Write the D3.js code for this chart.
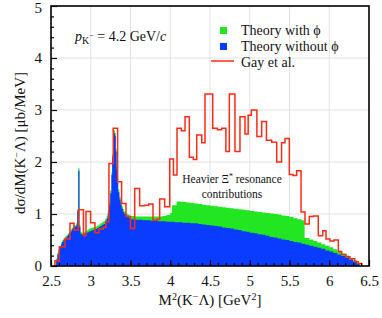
<!DOCTYPE html>
<html><head><meta charset="utf-8">
<script src="https://cdn.jsdelivr.net/npm/d3@7"></script>
<style>
body{margin:0;background:#fff;}
svg{display:block;}
svg text{font-family:"Liberation Serif","DejaVu Serif",serif;}
</style></head><body>
<svg id="c" width="382" height="318"></svg>
<script>
// ---- data ----
const redEdges = [2.55,2.605,2.676,2.739,2.79,2.845,2.908,2.94,2.998,3.052,3.103,3.157,3.19,3.229,3.283,3.338,3.388,3.443,3.50,3.553,3.615,3.678,3.73,3.783,3.83,3.867,3.93,3.993,4.04,4.085,4.14,4.186,4.24,4.29,4.333,4.396,4.437,4.49,4.534,4.592,4.647,4.70,4.743,4.814,4.877,4.94,4.98,5.02,5.09,5.15,5.21,5.276,5.339,5.40,5.443,5.498,5.545,5.59,5.645,5.695,5.749,5.80,5.862,5.918,5.959,6.009,6.06,6.114,6.157,6.21,6.26,6.32,6.365];
const redEnd = 6.408;
const redVals = [0.10,0.37,0.52,0.82,0.69,1.08,0.58,1.05,0.83,0.64,0.71,0.74,0.85,1.97,2.65,1.62,1.20,0.95,0.72,1.49,1.16,1.17,1.19,0.88,0.90,1.29,1.14,2.06,1.75,2.65,2.60,2.87,2.09,2.05,2.52,2.37,3.31,3.31,2.65,2.62,2.65,2.20,3.31,2.20,2.87,2.54,2.90,3.00,2.49,2.78,2.42,2.38,2.00,2.37,2.45,1.76,1.74,1.83,1.04,0.81,0.95,0.96,0.58,0.68,0.52,0.48,0.50,0.28,0.22,0.18,0.14,0.08,0.05];

const blueX = [2.565,2.58,2.595,2.61,2.625,2.64,2.655,2.67,2.685,2.70,2.715,2.73,2.745,2.76,2.775,2.79,2.805,2.82,2.83,2.843,2.858,2.87,2.885,2.90,2.92,2.94,2.96,2.98,3.00,3.02,3.04,3.06,3.08,3.10,3.12,3.14,3.16,3.18,3.20,3.215,3.23,3.245,3.26,3.27,3.28,3.29,3.305,3.315,3.325,3.335,3.345,3.36,3.375,3.39,3.405,3.42,3.44,3.46,3.48,3.5,3.55,3.6,3.65,3.7,3.75,3.8,3.85,3.9,3.95,4.0,4.05,4.1,4.15,4.2,4.25,4.3,4.35,4.4,4.45,4.5,4.55,4.6,4.65,4.7,4.75,4.8,4.85,4.9,4.95,5.0,5.05,5.1,5.15,5.2,5.25,5.3,5.35,5.4,5.45,5.5,5.55,5.6,5.65,5.7,5.75,5.8,5.85,5.9,5.95,6.0,6.05,6.1,6.15,6.2,6.25,6.3,6.35,6.38];
const blueY = [0.12,0.22,0.30,0.36,0.42,0.46,0.50,0.52,0.55,0.57,0.60,0.63,0.66,0.70,0.74,0.76,0.75,0.80,1.05,1.83,0.75,0.62,0.60,0.60,0.62,0.64,0.65,0.67,0.68,0.69,0.70,0.71,0.73,0.75,0.77,0.79,0.81,0.85,0.92,1.02,1.18,1.40,1.75,2.10,2.40,2.55,2.50,2.20,1.85,1.60,1.42,1.28,1.18,1.10,1.04,1.00,0.97,0.94,0.92,0.90,0.89,0.89,0.88,0.88,0.87,0.87,0.86,0.86,0.85,0.85,0.84,0.84,0.83,0.83,0.82,0.82,0.81,0.80,0.79,0.78,0.77,0.76,0.74,0.73,0.72,0.70,0.69,0.67,0.66,0.64,0.63,0.61,0.60,0.58,0.56,0.55,0.53,0.51,0.50,0.48,0.46,0.45,0.43,0.41,0.39,0.37,0.35,0.33,0.30,0.28,0.25,0.22,0.19,0.16,0.12,0.08,0.04,0];

const greenX = [2.565,2.58,2.595,2.61,2.625,2.64,2.655,2.67,2.685,2.70,2.715,2.73,2.745,2.76,2.775,2.79,2.805,2.82,2.83,2.843,2.858,2.87,2.885,2.90,2.92,2.94,2.96,2.98,3.00,3.02,3.04,3.06,3.08,3.10,3.12,3.14,3.16,3.18,3.20,3.215,3.23,3.245,3.26,3.27,3.28,3.29,3.305,3.315,3.325,3.335,3.345,3.36,3.375,3.39,3.405,3.42,3.44,3.46,3.48,3.5,3.55,3.6,3.65,3.7,3.75,3.8,3.85,3.9,3.95,4.0,4.02,4.05,4.08,4.1,4.15,4.2,4.25,4.3,4.35,4.4,4.45,4.5,4.55,4.6,4.65,4.7,4.75,4.8,4.85,4.9,4.95,5.0,5.05,5.1,5.15,5.2,5.25,5.3,5.35,5.4,5.45,5.5,5.55,5.6,5.65,5.69,5.75,5.8,5.85,5.9,5.95,6.0,6.05,6.1,6.15,6.2,6.25,6.3,6.35,6.39];
const greenY = [0.14,0.25,0.33,0.39,0.45,0.49,0.53,0.55,0.58,0.60,0.63,0.66,0.69,0.73,0.77,0.79,0.78,0.83,1.09,1.88,0.79,0.66,0.64,0.64,0.66,0.68,0.70,0.72,0.73,0.74,0.75,0.76,0.78,0.80,0.82,0.84,0.86,0.90,0.97,1.07,1.23,1.45,1.80,2.15,2.45,2.61,2.56,2.26,1.90,1.65,1.47,1.33,1.23,1.15,1.09,1.05,1.02,0.99,0.97,0.96,0.95,0.95,0.95,0.95,0.95,0.95,0.95,0.96,0.98,1.02,1.17,1.17,1.24,1.24,1.23,1.22,1.21,1.20,1.19,1.18,1.17,1.16,1.15,1.14,1.13,1.12,1.11,1.10,1.09,1.08,1.07,1.06,1.05,1.04,1.03,1.02,1.01,1.00,0.99,0.97,0.96,0.94,0.92,0.90,0.88,0.54,0.51,0.48,0.45,0.42,0.39,0.36,0.32,0.28,0.24,0.20,0.15,0.11,0.06,0];

const xTicks = [2.5,3,3.5,4,4.5,5,5.5,6,6.5];
const xTickLabels = ["2.5","3","3.5","4","4.5","5","5.5","6","6.5"];
const yTicks = [0,1,2,3,4,5];
const legendLabels = ["Theory with \u03D5","Theory without \u03D5","Gay et al."];

// ---- layout ----
const FONT = '"Liberation Serif","DejaVu Serif",serif';
const L = 51, R = 369, T = 6, B = 266;
const svg = d3.select("#c");
const x = d3.scaleLinear().domain([2.5,6.5]).range([L,R]);
const y = d3.scaleLinear().domain([0,5]).range([B,T]);
const GREEN = "#22e622", BLUE = "#0a3cff", RED = "#ff2a14";

// grid
const grid = svg.append("g");
grid.selectAll("line.gx").data(xTicks.slice(1,-1)).join("line")
  .attr("x1",d=>x(d)).attr("x2",d=>x(d)).attr("y1",T).attr("y2",B)
  .attr("stroke","#e2e2e2").attr("stroke-width",1);
grid.selectAll("line.gy").data(yTicks.slice(1,-1)).join("line")
  .attr("y1",d=>y(d)).attr("y2",d=>y(d)).attr("x1",L).attr("x2",R)
  .attr("stroke","#e2e2e2").attr("stroke-width",1);

svg.append("clipPath").attr("id","clip").append("rect")
  .attr("x",L).attr("y",T).attr("width",R-L).attr("height",B-T);
const plot = svg.append("g").attr("clip-path","url(#clip)");

const area = d3.area().x(d=>x(d[0])).y0(y(0)).y1(d=>y(d[1])).curve(d3.curveStepAfter);
plot.append("path").datum(greenX.map((v,i)=>[v,greenY[i]])).attr("d",area).attr("fill",GREEN);
plot.append("path").datum(blueX.map((v,i)=>[v,blueY[i]])).attr("d",area).attr("fill",BLUE);

const redPts = [[redEdges[0],0]].concat(redEdges.map((e,i)=>[e,redVals[i]])).concat([[redEnd,0]]);
const line = d3.line().x(d=>x(d[0])).y(d=>y(d[1])).curve(d3.curveStepAfter);
plot.append("path").datum(redPts).attr("d",line).attr("fill","none")
  .attr("stroke",RED).attr("stroke-width",1.5).attr("stroke-linejoin","miter");

// axes
const xAxis = d3.axisBottom(x).tickValues(xTicks).tickFormat((d,i)=>xTickLabels[i]).tickSize(-6).tickPadding(9);
const xMinor = d3.axisBottom(x).tickValues(d3.range(26,65).map(v=>v/10)).tickFormat("").tickSize(-3);
const yAxis = d3.axisLeft(y).tickValues(yTicks).tickFormat(d3.format("d")).tickSize(-6).tickPadding(9);
const yMinor = d3.axisLeft(y).tickValues(d3.range(1,25).filter(v=>v%5!==0).map(v=>v/5)).tickFormat("").tickSize(-3);

function style(g){
  g.attr("font-family",FONT);
  g.select(".domain").remove();
  g.selectAll("line").attr("stroke","#000").attr("stroke-width",1.2);
  g.selectAll("text").attr("font-family",FONT).attr("font-size",15).attr("fill","#111");
}
svg.append("g").attr("transform",`translate(0,${B})`).call(xMinor).call(style);
svg.append("g").attr("transform",`translate(0,${B})`).call(xAxis).call(style);
svg.append("g").attr("transform",`translate(${L},0)`).call(yMinor).call(style);
const yg = svg.append("g").attr("transform",`translate(${L},0)`).call(yAxis).call(style);
yg.selectAll("text").filter(d=>d===5).attr("dy","0.45em");

svg.append("rect").attr("x",L).attr("y",T).attr("width",R-L).attr("height",B-T)
  .attr("fill","none").attr("stroke","#000").attr("stroke-width",1.6);

// axis titles
svg.append("text").attr("x",210).attr("y",305).attr("text-anchor","middle").attr("font-family",FONT)
  .attr("font-size",15).attr("fill","#111")
  .html('M<tspan dy="-5" font-size="10">2</tspan><tspan dy="5">(K</tspan><tspan dy="-5" font-size="10">\u2212</tspan><tspan dy="5">\u039B) [GeV</tspan><tspan dy="-5" font-size="10">2</tspan><tspan dy="5">]</tspan>');
svg.append("text").attr("transform","translate(25,143) rotate(-90)").attr("text-anchor","middle").attr("font-family",FONT)
  .attr("font-size",15).attr("fill","#111")
  .html('d\u03C3/dM(K<tspan dy="-5" font-size="10">\u2212</tspan><tspan dy="5">\u039B) [\u03BCb/MeV]</tspan>');

// annotation
svg.append("text").attr("x",75).attr("y",41).attr("font-size",14).attr("fill","#111").attr("font-family",FONT)
  .html('<tspan font-style="italic">p</tspan><tspan dy="3" font-size="10">K</tspan><tspan dy="-6" font-size="8">\u2212</tspan><tspan dy="3"> = 4.2 GeV/</tspan><tspan font-style="italic">c</tspan>');
svg.append("text").attr("x",232).attr("y",183).attr("text-anchor","middle").attr("font-size",11.5).attr("fill","#111").attr("font-family",FONT)
  .html('Heavier \u039E<tspan dy="-4" font-size="8">*</tspan><tspan dy="4"> resonance</tspan>');
svg.append("text").attr("x",232).attr("y",198).attr("text-anchor","middle").attr("font-size",11.5).attr("fill","#111").attr("font-family",FONT)
  .text("contributions");

// legend
const lg = svg.append("g");
lg.append("rect").attr("x",220).attr("y",27).attr("width",7).attr("height",7).attr("fill",GREEN);
lg.append("rect").attr("x",220).attr("y",43).attr("width",7).attr("height",7).attr("fill",BLUE);
lg.append("line").attr("x1",211).attr("x2",234).attr("y1",61).attr("y2",61).attr("stroke",RED).attr("stroke-width",1.5);
lg.selectAll("text").data(legendLabels).join("text").attr("font-family",FONT)
  .attr("x",241).attr("y",(d,i)=>35+i*16).attr("font-size",14).attr("fill","#111").text(d=>d);
</script>
</body></html>
